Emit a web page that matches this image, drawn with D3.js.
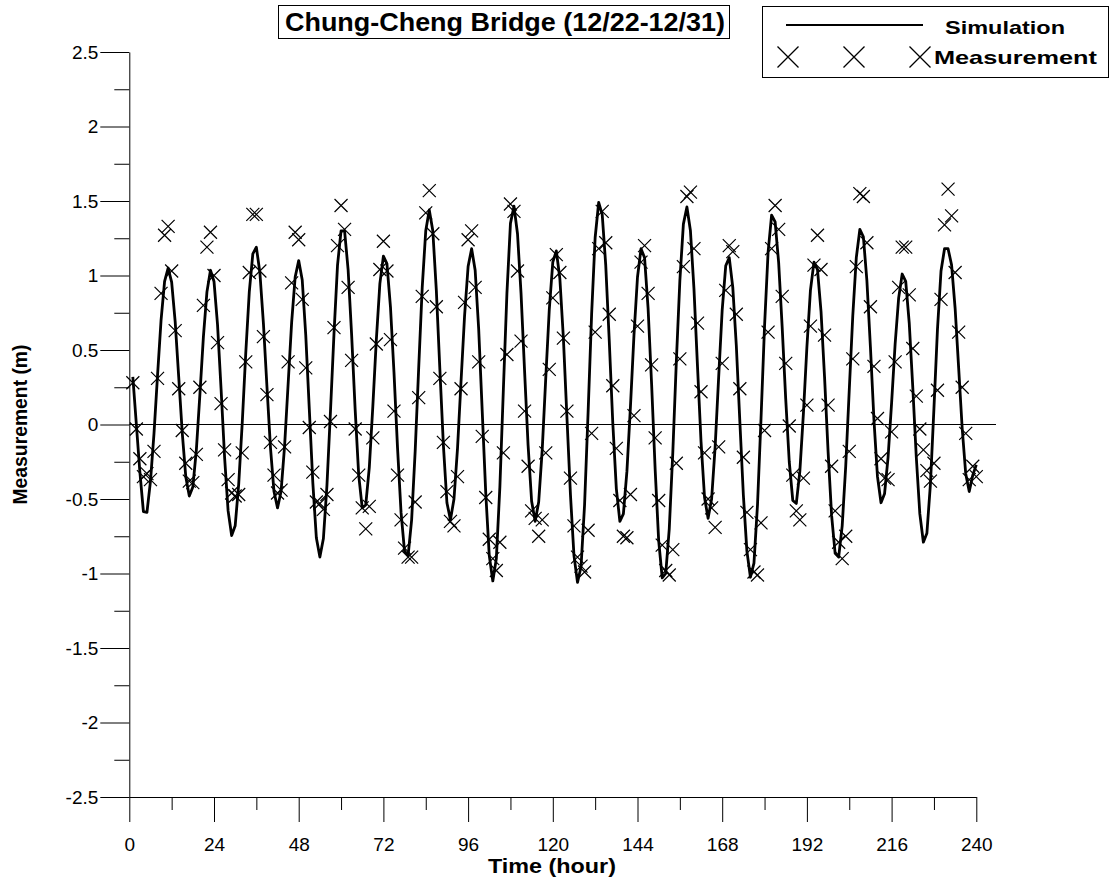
<!DOCTYPE html>
<html>
<head>
<meta charset="utf-8">
<script src="https://cdn.jsdelivr.net/npm/d3@7"></script>
<style>
  body { margin: 0; background: #fff; }
  svg { display: block; }
  text { font-family: "Liberation Sans", Arial, sans-serif; fill: #000; }
</style>
</head>
<body>
<script>
// hourly values, first entry is hour 1
const firstHour = 1;

const simulation = [
  0.32, 0.00, -0.32, -0.585, -0.59, -0.38, -0.06, 0.33, 0.70, 0.96, 1.05, 0.955,
  0.69, 0.32, -0.055, -0.35, -0.48, -0.42, -0.17, 0.20, 0.59, 0.89, 1.035, 0.96,
  0.67, 0.24, -0.22, -0.58, -0.745, -0.68, -0.40, 0.01, 0.48, 0.89, 1.145, 1.19,
  1.02, 0.68, 0.255, -0.155, -0.45, -0.56, -0.45, -0.145, 0.27, 0.685, 0.99, 1.10,
  0.97, 0.60, 0.105, -0.39, -0.76, -0.89, -0.765, -0.41, 0.087, 0.61, 1.07, 1.30,
  1.30, 1.04, 0.60, 0.10, -0.34, -0.56, -0.54, -0.29, 0.12, 0.57, 0.945, 1.13,
  1.08, 0.79, 0.35, -0.155, -0.59, -0.855, -0.88, -0.64, -0.18, 0.38, 0.92, 1.30,
  1.44, 1.30, 0.90, 0.37, -0.14, -0.525, -0.64, -0.50, -0.16, 0.29, 0.73, 1.06,
  1.18, 1.035, 0.64, 0.09, -0.46, -0.88, -1.05, -0.90, -0.42, 0.24, 0.88, 1.35,
  1.465, 1.28, 0.88, 0.36, -0.14, -0.515, -0.65, -0.52, -0.17, 0.31, 0.77, 1.09,
  1.165, 0.98, 0.58, 0.05, -0.47, -0.88, -1.06, -0.955, -0.54, 0.08, 0.74, 1.255,
  1.49, 1.41, 1.07, 0.56, 0.01, -0.43, -0.65, -0.60, -0.315, 0.12, 0.60, 0.99,
  1.18, 1.12, 0.78, 0.27, -0.30, -0.78, -1.03, -1.00, -0.70, -0.19, 0.42, 0.965,
  1.345, 1.46, 1.30, 0.91, 0.39, -0.115, -0.49, -0.63, -0.50, -0.15, 0.32, 0.77,
  1.065, 1.12, 0.92, 0.53, 0.02, -0.475, -0.85, -1.025, -0.93, -0.54, 0.04, 0.66,
  1.155, 1.405, 1.36, 1.085, 0.65, 0.17, -0.25, -0.51, -0.53, -0.315, 0.07, 0.52,
  0.90, 1.09, 1.04, 0.76, 0.32, -0.18, -0.61, -0.865, -0.89, -0.68, -0.28, 0.23,
  0.73, 1.12, 1.31, 1.26, 0.965, 0.52, 0.03, -0.35, -0.525, -0.465, -0.22, 0.145,
  0.54, 0.85, 1.01, 0.96, 0.68, 0.25, -0.22, -0.60, -0.79, -0.73, -0.40, 0.11,
  0.64, 1.03, 1.18, 1.18, 1.07, 0.78, 0.38, -0.025, -0.33, -0.45, -0.34, -0.27
];

const measurement = [
  0.28, -0.03, -0.23, -0.35, -0.33, -0.37, -0.18, 0.31, 0.88, 1.27, 1.33, 1.03,
  0.63, 0.24, -0.04, -0.26, -0.38, -0.39, -0.20, 0.25, 0.80, 1.19, 1.29, 1.00,
  0.55, 0.14, -0.17, -0.37, -0.46, -0.48, -0.47, -0.19, 0.42, 1.02, 1.41, 1.41,
  1.03, 0.59, 0.20, -0.12, -0.34, -0.46, -0.44, -0.15, 0.42, 0.95, 1.29, 1.24,
  0.84, 0.38, -0.02, -0.32, -0.52, -0.53, -0.57, -0.47, 0.02, 0.65, 1.20, 1.47,
  1.31, 0.92, 0.43, -0.03, -0.34, -0.56, -0.70, -0.55, -0.09, 0.54, 1.04, 1.23,
  1.03, 0.57, 0.09, -0.34, -0.64, -0.83, -0.89, -0.89, -0.52, 0.18, 0.86, 1.42,
  1.57, 1.28, 0.79, 0.31, -0.12, -0.45, -0.65, -0.68, -0.35, 0.24, 0.82, 1.24,
  1.30, 0.92, 0.42, -0.08, -0.49, -0.77, -0.90, -0.98, -0.79, -0.19, 0.47, 1.48,
  1.43, 1.03, 0.56, 0.09, -0.28, -0.58, -0.63, -0.75, -0.64, -0.19, 0.37, 0.85,
  1.14, 1.02, 0.58, 0.09, -0.36, -0.68, -0.89, -0.95, -0.99, -0.71, -0.06, 0.62,
  1.18, 1.43, 1.22, 0.74, 0.26, -0.16, -0.51, -0.75, -0.76, -0.47, 0.06, 0.66,
  1.09, 1.20, 0.88, 0.40, -0.09, -0.51, -0.81, -0.98, -1.01, -0.84, -0.26, 0.44,
  1.06, 1.53, 1.56, 1.18, 0.68, 0.22, -0.19, -0.50, -0.56, -0.69, -0.15, 0.41,
  0.90, 1.20, 1.16, 0.74, 0.24, -0.22, -0.59, -0.84, -0.99, -1.01, -0.66, -0.04,
  0.62, 1.18, 1.47, 1.31, 0.86, 0.41, -0.01, -0.34, -0.58, -0.64, -0.36, 0.13,
  0.66, 1.07, 1.27, 1.04, 0.60, 0.13, -0.28, -0.58, -0.79, -0.90, -0.75, -0.18,
  0.44, 1.06, 1.55, 1.53, 1.22, 0.79, 0.39, 0.04, -0.23, -0.36, -0.37, -0.05,
  0.42, 0.92, 1.19, 1.19, 0.87, 0.51, 0.19, -0.03, -0.17, -0.31, -0.38, -0.26,
  0.23, 0.84, 1.34, 1.58, 1.40, 1.02, 0.62, 0.25, -0.06, -0.37, -0.28, -0.35
];

const xTicks = [0, 24, 48, 72, 96, 120, 144, 168, 192, 216, 240];
const xMinorTicks = [12, 36, 60, 84, 108, 132, 156, 180, 204, 228];
const yTicks = [-2.5, -2, -1.5, -1, -0.5, 0, 0.5, 1, 1.5, 2, 2.5];
const yMinorTicks = [-2.25, -1.75, -1.25, -0.75, -0.25, 0.25, 0.75, 1.25, 1.75, 2.25];

const title = 'Chung-Cheng Bridge (12/22-12/31)';
const seriesNames = ['Simulation', 'Measurement'];
const xTitle = 'Time (hour)';
const yTitle = 'Measurement (m)';

const width = 1115;
const height = 888;

const svg = d3.select('body').append('svg')
  .attr('width', width)
  .attr('height', height);

const x = d3.scaleLinear().domain([0, 240]).range([129.3, 976.3]);
const y = d3.scaleLinear().domain([-2.5, 2.5]).range([797, 52]);

const crossPath = s => `M${-s},${-s}L${s},${s}M${-s},${s}L${s},${-s}`;

// y axis
const yAxis = svg.append('g')
  .attr('transform', `translate(${x(0)},0)`)
  .call(d3.axisLeft(y).tickValues(yTicks).tickSize(29).tickSizeOuter(0)
    .tickPadding(2).tickFormat(d => String(d)));
yAxis.append('g')
  .call(d3.axisLeft(y).tickValues(yMinorTicks).tickSize(15).tickFormat(''))
  .select('.domain').remove();

// x axis
const xAxis = svg.append('g')
  .attr('transform', `translate(0,${y(-2.5)})`)
  .call(d3.axisBottom(x).tickValues(xTicks).tickSize(25).tickSizeOuter(0)
    .tickPadding(16).tickFormat(d => String(d)));
xAxis.append('g')
  .call(d3.axisBottom(x).tickValues(xMinorTicks).tickSize(13).tickFormat(''))
  .select('.domain').remove();

svg.selectAll('.tick text')
  .attr('font-size', 19)
  .attr('font-family', '"Liberation Sans", Arial, sans-serif')
  .attr('fill', '#000');
svg.selectAll('.domain, .tick line').attr('stroke', '#000').attr('stroke-width', 1);

// zero line
svg.append('line')
  .attr('x1', x(0)).attr('x2', 996)
  .attr('y1', y(0)).attr('y2', y(0))
  .attr('stroke', '#000')
  .attr('stroke-width', 1);

// simulation line
const line = d3.line()
  .x((d, i) => x(i + firstHour))
  .y(d => y(d));

svg.append('path')
  .datum(simulation)
  .attr('d', line)
  .attr('fill', 'none')
  .attr('stroke', '#000')
  .attr('stroke-width', 2.8)
  .attr('stroke-linejoin', 'round');

// measurement crosses
svg.append('g')
  .selectAll('path')
  .data(measurement)
  .enter()
  .append('path')
  .attr('transform', (d, i) => `translate(${x(i + firstHour)},${y(d)})`)
  .attr('d', crossPath(6.5))
  .attr('fill', 'none')
  .attr('stroke', '#000')
  .attr('stroke-width', 1.2);

// axis titles
svg.append('text')
  .attr('x', 552)
  .attr('y', 873)
  .attr('text-anchor', 'middle')
  .attr('font-size', 20)
  .attr('font-weight', 'bold')
  .attr('textLength', 128)
  .attr('lengthAdjust', 'spacingAndGlyphs')
  .text(xTitle);

svg.append('text')
  .attr('transform', `translate(27,${y(0)}) rotate(-90)`)
  .attr('text-anchor', 'middle')
  .attr('font-size', 20)
  .attr('font-weight', 'bold')
  .attr('textLength', 160)
  .attr('lengthAdjust', 'spacingAndGlyphs')
  .text(yTitle);

// title box
svg.append('rect')
  .attr('x', 278.5).attr('y', 5.5)
  .attr('width', 451).attr('height', 33)
  .attr('fill', '#fff')
  .attr('stroke', '#000');

svg.append('text')
  .attr('x', 505)
  .attr('y', 31)
  .attr('text-anchor', 'middle')
  .attr('font-size', 25)
  .attr('font-weight', 'bold')
  .attr('textLength', 440)
  .attr('lengthAdjust', 'spacingAndGlyphs')
  .text(title);

// legend
const legend = svg.append('g');
legend.append('rect')
  .attr('x', 762.5).attr('y', 6.5)
  .attr('width', 346).attr('height', 71)
  .attr('fill', '#fff')
  .attr('stroke', '#000');

legend.append('line')
  .attr('x1', 786).attr('x2', 923)
  .attr('y1', 25).attr('y2', 25)
  .attr('stroke', '#000')
  .attr('stroke-width', 2);

legend.selectAll('.LegendCross')
  .data([788, 854, 920])
  .enter()
  .append('path')
  .attr('class', 'LegendCross')
  .attr('transform', d => `translate(${d},57)`)
  .attr('d', crossPath(10.5))
  .attr('fill', 'none')
  .attr('stroke', '#000')
  .attr('stroke-width', 1.3);

legend.selectAll('.LegendLabel')
  .data(seriesNames)
  .enter()
  .append('text')
  .attr('class', 'LegendLabel')
  .attr('x', (d, i) => i === 0 ? 945 : 934)
  .attr('y', (d, i) => i === 0 ? 34 : 64)
  .attr('font-size', 19)
  .attr('font-weight', 'bold')
  .attr('textLength', (d, i) => i === 0 ? 120 : 163)
  .attr('lengthAdjust', 'spacingAndGlyphs')
  .text(d => d);
</script>
</body>
</html>
